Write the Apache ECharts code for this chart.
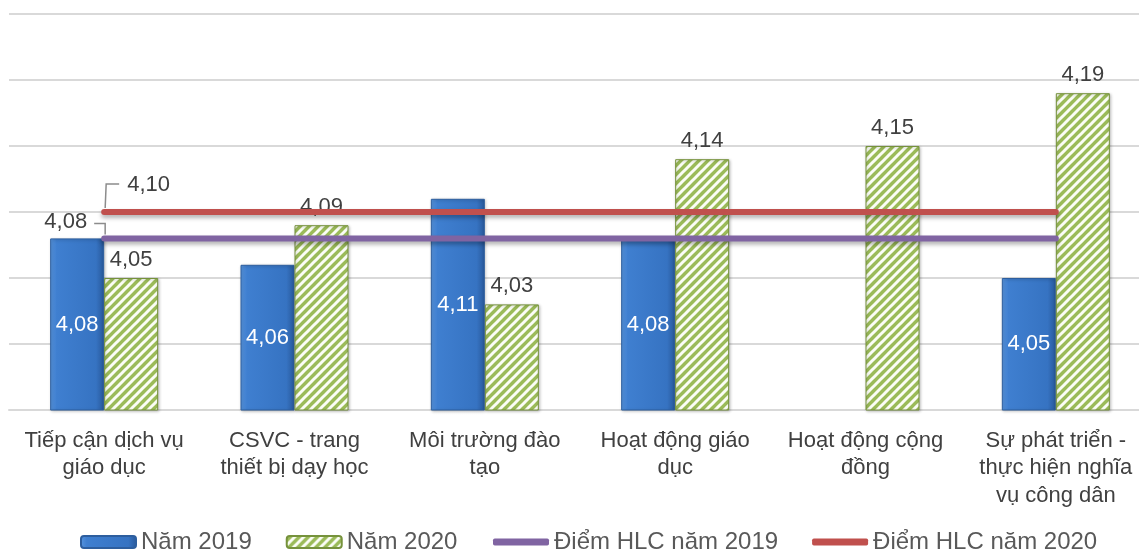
<!DOCTYPE html>
<html>
<head>
<meta charset="utf-8">
<script src="https://cdn.jsdelivr.net/npm/echarts@6/dist/echarts.min.js"></script>
<style>
html,body{margin:0;padding:0;background:#fff;}
#chart{width:1139px;height:551px;}
</style>
</head>
<body>
<div id="chart"></div>
<script>
// Chart data
const categories = [
  'Tiếp cận dịch vụ\ngiáo dục',
  'CSVC - trang\nthiết bị dạy học',
  'Môi trường đào\ntạo',
  'Hoạt động giáo\ndục',
  'Hoạt động cộng\nđồng',
  'Sự phát triển -\nthực hiện nghĩa\nvụ công dân'
];
const seriesNames = ['Năm 2019', 'Năm 2020', 'Điểm HLC năm 2019', 'Điểm HLC năm 2020'];
const values2019 = [4.08, 4.06, 4.11, 4.08, null, 4.05];
const values2020 = [4.05, 4.09, 4.03, 4.14, 4.15, 4.19];
const hlc2019 = [4.08, 4.08, 4.08, 4.08, 4.08, 4.08];
const hlc2020 = [4.10, 4.10, 4.10, 4.10, 4.10, 4.10];

const FONT = '"Liberation Sans", Arial, sans-serif';
const fmt = v => v.toFixed(2).replace('.', ',');

// Diagonal white hatch on green for the 2020 bars
function hatchPattern() {
  const c = document.createElement('canvas');
  c.width = 9; c.height = 9;
  const g = c.getContext('2d');
  g.fillStyle = '#9bbb59';
  g.fillRect(0, 0, 9, 9);
  g.strokeStyle = '#fbfdf6';
  g.lineWidth = 3;
  for (let k = 0; k <= 18; k += 9) {
    g.beginPath();
    g.moveTo(-5, k + 5);
    g.lineTo(k + 5, -5);
    g.stroke();
  }
  return c;
}

const blueFill = new echarts.graphic.LinearGradient(0, 0, 1, 0, [
  { offset: 0, color: '#5896e0' },
  { offset: 0.12, color: '#3f7fd0' },
  { offset: 0.85, color: '#3673c2' },
  { offset: 1, color: '#28589a' }
]);

const chart = echarts.init(document.getElementById('chart'));

const legendText = { fontFamily: FONT, fontSize: 24, color: '#595959' };

const option = {
  animation: false,
  backgroundColor: '#fff',
  grid: { left: 9, width: 1142, top: 14, bottom: 141, containLabel: false, outerBoundsMode: 'none' },
  xAxis: {
    type: 'category',
    data: categories,
    axisLine: { show: true, lineStyle: { color: '#d9d9d9', width: 2 } },
    axisTick: { show: false },
    axisLabel: {
      interval: 0, fontFamily: FONT, fontSize: 22, lineHeight: 27.5,
      color: '#404040', margin: 17
    }
  },
  yAxis: {
    type: 'value',
    min: 3.95, max: 4.25, interval: 0.05,
    axisLabel: { show: false },
    axisLine: { show: false },
    axisTick: { show: false },
    splitLine: { lineStyle: { color: '#d9d9d9', width: 2 } }
  },
  legend: [
    {
      data: seriesNames.slice(0, 2),
      left: 80, top: 530, padding: 0,
      itemWidth: 55, itemHeight: 12, itemGap: 34,
      textStyle: legendText
    },
    {
      data: seriesNames.slice(2),
      left: 493, top: 530, padding: 0,
      icon: 'roundRect',
      itemWidth: 56, itemHeight: 7, itemGap: 34,
      textStyle: legendText
    }
  ],
  series: [
    {
      name: seriesNames[0], type: 'bar', data: values2019,
      barWidth: 54, barGap: '0%',
      itemStyle: {
        color: blueFill, borderColor: '#2d5e9e', borderWidth: 1,
        shadowColor: 'rgba(0,0,0,0.25)', shadowBlur: 3, shadowOffsetX: 1, shadowOffsetY: 1
      },
      label: {
        show: true, position: 'inside', formatter: p => fmt(p.value),
        fontFamily: FONT, fontSize: 22, color: '#ffffff'
      }
    },
    {
      name: seriesNames[1], type: 'bar', data: values2020,
      barWidth: 54,
      itemStyle: {
        color: { image: hatchPattern(), repeat: 'repeat' },
        borderColor: '#76923c', borderWidth: 1,
        shadowColor: 'rgba(0,0,0,0.25)', shadowBlur: 3, shadowOffsetX: 1, shadowOffsetY: 1
      },
      label: {
        show: true, position: 'top', distance: 7, formatter: p => fmt(p.value),
        fontFamily: FONT, fontSize: 22, color: '#404040'
      }
    },
    {
      name: seriesNames[2], type: 'line', data: hlc2019,
      symbol: 'none', color: '#8064a2', z: 5,
      lineStyle: {
        width: 6, color: '#8064a2', cap: 'round',
        shadowColor: 'rgba(0,0,0,0.3)', shadowBlur: 4, shadowOffsetY: 3
      }
    },
    {
      name: seriesNames[3], type: 'line', data: hlc2020,
      symbol: 'none', color: '#c0504d', z: 5,
      lineStyle: {
        width: 6, color: '#c0504d', cap: 'round',
        shadowColor: 'rgba(0,0,0,0.3)', shadowBlur: 4, shadowOffsetY: 3
      }
    }
  ]
};

chart.setOption(option);

// Callout labels for the two reference lines, anchored at their first point
const p19 = chart.convertToPixel({ seriesIndex: 2 }, [0, hlc2019[0]]);
const p20 = chart.convertToPixel({ seriesIndex: 3 }, [0, hlc2020[0]]);
const leaderStyle = { stroke: '#8c8c8c', lineWidth: 1.5, fill: null };
chart.setOption({
  graphic: [
    {
      type: 'polyline', z: 20, silent: true,
      shape: { points: [[p19[0] + 1, p19[1] - 4], [p19[0] + 1, p19[1] - 15], [p19[0] - 10, p19[1] - 15]] },
      style: leaderStyle
    },
    {
      type: 'text', z: 20, silent: true,
      x: p19[0] - 17, y: p19[1] - 16,
      style: {
        text: fmt(hlc2019[0]), font: '22px ' + FONT, fill: '#404040',
        align: 'right', verticalAlign: 'middle'
      }
    },
    {
      type: 'polyline', z: 20, silent: true,
      shape: { points: [[p20[0] + 1, p20[1] - 4], [p20[0] + 2, p20[1] - 28], [p20[0] + 15, p20[1] - 28]] },
      style: leaderStyle
    },
    {
      type: 'text', z: 20, silent: true,
      x: p20[0] + 23, y: p20[1] - 27,
      style: {
        text: fmt(hlc2020[0]), font: '22px ' + FONT, fill: '#404040',
        align: 'left', verticalAlign: 'middle'
      }
    }
  ]
});
</script>
</body>
</html>
